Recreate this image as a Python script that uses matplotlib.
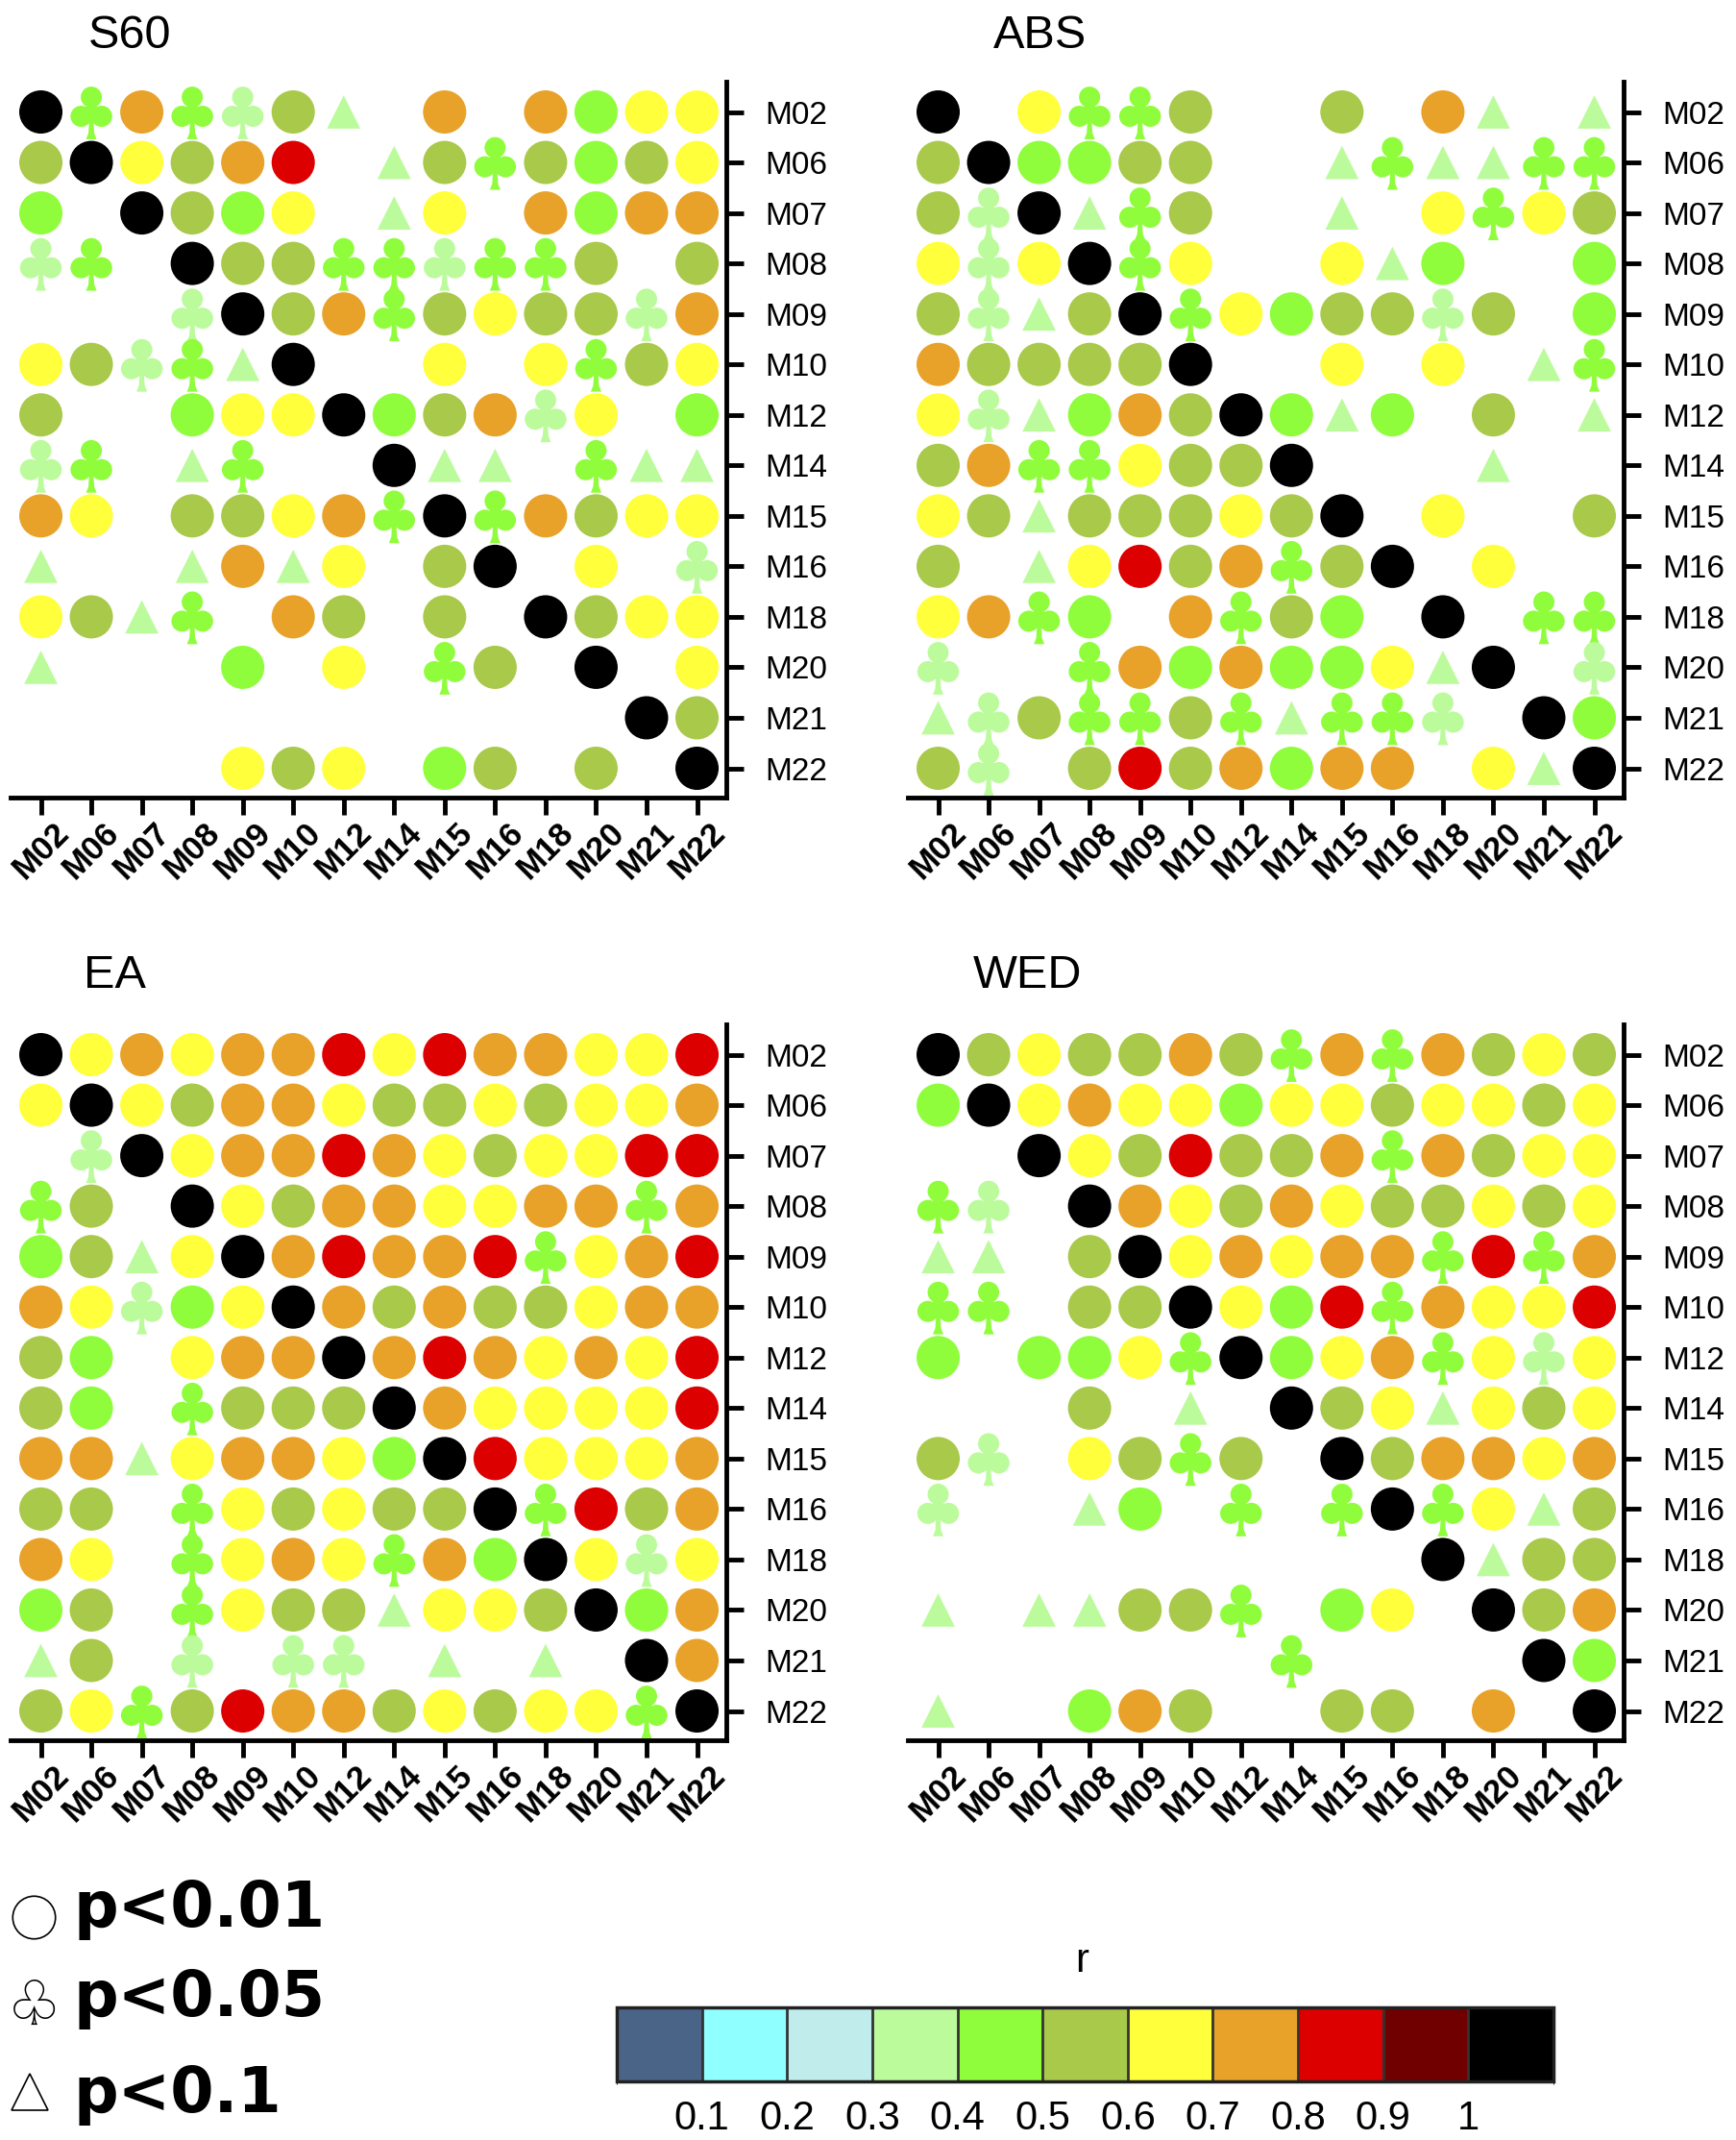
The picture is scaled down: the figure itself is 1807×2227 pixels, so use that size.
import numpy as np
import matplotlib
matplotlib.use('Agg')
import matplotlib.pyplot as plt
import matplotlib.transforms as mtransforms
from matplotlib.colors import ListedColormap, BoundaryNorm
from matplotlib.cm import ScalarMappable
from matplotlib.path import Path
from matplotlib.lines import Line2D

plt.rcParams['font.family'] = ['Liberation Sans', 'DejaVu Sans']

nan = np.nan

# station / model names (rows and columns)
models = ['M02', 'M06', 'M07', 'M08', 'M09', 'M10', 'M12',
          'M14', 'M15', 'M16', 'M18', 'M20', 'M21', 'M22']

# colour classes of r
r_bounds = [0, 0.1, 0.2, 0.3, 0.4, 0.5, 0.6, 0.7, 0.8, 0.9, 1.0, 1.1]
r_colors = ['#4a6488', '#8fffff', '#c0ecec', '#bcfb9c', '#8ffd3c', '#a9c94a',
            '#ffff3c', '#e8a22a', '#dc0000', '#700000', '#000000']
cbar_ticks = [0.1, 0.2, 0.3, 0.4, 0.5, 0.6, 0.7, 0.8, 0.9, 1.0]
cbar_labels = ['0.1', '0.2', '0.3', '0.4', '0.5', '0.6', '0.7', '0.8', '0.9', '1']

# significance: 3 = p<0.01 (circle), 2 = p<0.05 (club), 1 = p<0.1 (triangle), 0 = none
s60_r = [
    [1.00, .45, .75, .45, .35, .55, .35, nan, .75, nan, .75, .45, .65, .65],
    [.55, 1.00, .65, .55, .75, .85, nan, .35, .55, .45, .55, .45, .55, .65],
    [.45, nan, 1.00, .55, .45, .65, nan, .35, .65, nan, .75, .45, .75, .75],
    [.35, .45, nan, 1.00, .55, .55, .45, .45, .35, .45, .45, .55, nan, .55],
    [nan, nan, nan, .35, 1.00, .55, .75, .45, .55, .65, .55, .55, .35, .75],
    [.65, .55, .35, .45, .35, 1.00, nan, nan, .65, nan, .65, .45, .55, .65],
    [.55, nan, nan, .45, .65, .65, 1.00, .45, .55, .75, .35, .65, nan, .45],
    [.35, .45, nan, .35, .45, nan, nan, 1.00, .35, .35, nan, .45, .35, .35],
    [.75, .65, nan, .55, .55, .65, .75, .45, 1.00, .45, .75, .55, .65, .65],
    [.35, nan, nan, .35, .75, .35, .65, nan, .55, 1.00, nan, .65, nan, .35],
    [.65, .55, .35, .45, nan, .75, .55, nan, .55, nan, 1.00, .55, .65, .65],
    [.35, nan, nan, nan, .45, nan, .65, nan, .45, .55, nan, 1.00, nan, .65],
    [nan, nan, nan, nan, nan, nan, nan, nan, nan, nan, nan, nan, 1.00, .55],
    [nan, nan, nan, nan, .65, .55, .65, nan, .45, .55, nan, .55, nan, 1.00],
]
s60_p = [
    [3, 2, 3, 2, 2, 3, 1, 0, 3, 0, 3, 3, 3, 3],
    [3, 3, 3, 3, 3, 3, 0, 1, 3, 2, 3, 3, 3, 3],
    [3, 0, 3, 3, 3, 3, 0, 1, 3, 0, 3, 3, 3, 3],
    [2, 2, 0, 3, 3, 3, 2, 2, 2, 2, 2, 3, 0, 3],
    [0, 0, 0, 2, 3, 3, 3, 2, 3, 3, 3, 3, 2, 3],
    [3, 3, 2, 2, 1, 3, 0, 0, 3, 0, 3, 2, 3, 3],
    [3, 0, 0, 3, 3, 3, 3, 3, 3, 3, 2, 3, 0, 3],
    [2, 2, 0, 1, 2, 0, 0, 3, 1, 1, 0, 2, 1, 1],
    [3, 3, 0, 3, 3, 3, 3, 2, 3, 2, 3, 3, 3, 3],
    [1, 0, 0, 1, 3, 1, 3, 0, 3, 3, 0, 3, 0, 2],
    [3, 3, 1, 2, 0, 3, 3, 0, 3, 0, 3, 3, 3, 3],
    [1, 0, 0, 0, 3, 0, 3, 0, 2, 3, 0, 3, 0, 3],
    [0, 0, 0, 0, 0, 0, 0, 0, 0, 0, 0, 0, 3, 3],
    [0, 0, 0, 0, 3, 3, 3, 0, 3, 3, 0, 3, 0, 3],
]

abs_r = [
    [1.00, nan, .65, .45, .45, .55, nan, nan, .55, nan, .75, .35, nan, .35],
    [.55, 1.00, .45, .45, .55, .55, nan, nan, .35, .45, .35, .35, .45, .45],
    [.55, .35, 1.00, .35, .45, .55, nan, nan, .35, nan, .65, .45, .65, .55],
    [.65, .35, .65, 1.00, .45, .65, nan, nan, .65, .35, .45, nan, nan, .45],
    [.55, .35, .35, .55, 1.00, .45, .65, .45, .55, .55, .35, .55, nan, .45],
    [.75, .55, .55, .55, .55, 1.00, nan, nan, .65, nan, .65, nan, .35, .45],
    [.65, .35, .35, .45, .75, .55, 1.00, .45, .35, .45, nan, .55, nan, .35],
    [.55, .75, .45, .45, .65, .55, .55, 1.00, nan, nan, nan, .35, nan, nan],
    [.65, .55, .35, .55, .55, .55, .65, .55, 1.00, nan, .65, nan, nan, .55],
    [.55, nan, .35, .65, .85, .55, .75, .45, .55, 1.00, nan, .65, nan, nan],
    [.65, .75, .45, .45, nan, .75, .45, .55, .45, nan, 1.00, nan, .45, .45],
    [.35, nan, nan, .45, .75, .45, .75, .45, .45, .65, .35, 1.00, nan, .35],
    [.35, .35, .55, .45, .45, .55, .45, .35, .45, .45, .35, nan, 1.00, .45],
    [.55, .35, nan, .55, .85, .55, .75, .45, .75, .75, nan, .65, .35, 1.00],
]
abs_p = [
    [3, 0, 3, 2, 2, 3, 0, 0, 3, 0, 3, 1, 0, 1],
    [3, 3, 3, 3, 3, 3, 0, 0, 1, 2, 1, 1, 2, 2],
    [3, 2, 3, 1, 2, 3, 0, 0, 1, 0, 3, 2, 3, 3],
    [3, 2, 3, 3, 2, 3, 0, 0, 3, 1, 3, 0, 0, 3],
    [3, 2, 1, 3, 3, 2, 3, 3, 3, 3, 2, 3, 0, 3],
    [3, 3, 3, 3, 3, 3, 0, 0, 3, 0, 3, 0, 1, 2],
    [3, 2, 1, 3, 3, 3, 3, 3, 1, 3, 0, 3, 0, 1],
    [3, 3, 2, 2, 3, 3, 3, 3, 0, 0, 0, 1, 0, 0],
    [3, 3, 1, 3, 3, 3, 3, 3, 3, 0, 3, 0, 0, 3],
    [3, 0, 1, 3, 3, 3, 3, 2, 3, 3, 0, 3, 0, 0],
    [3, 3, 2, 3, 0, 3, 2, 3, 3, 0, 3, 0, 2, 2],
    [2, 0, 0, 2, 3, 3, 3, 3, 3, 3, 1, 3, 0, 2],
    [1, 2, 3, 2, 2, 3, 2, 1, 2, 2, 2, 0, 3, 3],
    [3, 2, 0, 3, 3, 3, 3, 3, 3, 3, 0, 3, 1, 3],
]

ea_r = [
    [1.00, .65, .75, .65, .75, .75, .85, .65, .85, .75, .75, .65, .65, .85],
    [.65, 1.00, .65, .55, .75, .75, .65, .55, .55, .65, .55, .65, .65, .75],
    [nan, .35, 1.00, .65, .75, .75, .85, .75, .65, .55, .65, .65, .85, .85],
    [.45, .55, nan, 1.00, .65, .55, .75, .75, .65, .65, .75, .75, .45, .75],
    [.45, .55, .35, .65, 1.00, .75, .85, .75, .75, .85, .45, .65, .75, .85],
    [.75, .65, .35, .45, .65, 1.00, .75, .55, .75, .55, .55, .65, .75, .75],
    [.55, .45, nan, .65, .75, .75, 1.00, .75, .85, .75, .65, .75, .65, .85],
    [.55, .45, nan, .45, .55, .55, .55, 1.00, .75, .65, .65, .65, .65, .85],
    [.75, .75, .35, .65, .75, .75, .65, .45, 1.00, .85, .65, .65, .65, .75],
    [.55, .55, nan, .45, .65, .55, .65, .55, .55, 1.00, .45, .85, .55, .75],
    [.75, .65, nan, .45, .65, .75, .65, .45, .75, .45, 1.00, .65, .35, .65],
    [.45, .55, nan, .45, .65, .55, .55, .35, .65, .65, .55, 1.00, .45, .75],
    [.35, .55, nan, .35, nan, .35, .35, nan, .35, nan, .35, nan, 1.00, .75],
    [.55, .65, .45, .55, .85, .75, .75, .55, .65, .55, .65, .65, .45, 1.00],
]
ea_p = [
    [3, 3, 3, 3, 3, 3, 3, 3, 3, 3, 3, 3, 3, 3],
    [3, 3, 3, 3, 3, 3, 3, 3, 3, 3, 3, 3, 3, 3],
    [0, 2, 3, 3, 3, 3, 3, 3, 3, 3, 3, 3, 3, 3],
    [2, 3, 0, 3, 3, 3, 3, 3, 3, 3, 3, 3, 2, 3],
    [3, 3, 1, 3, 3, 3, 3, 3, 3, 3, 2, 3, 3, 3],
    [3, 3, 2, 3, 3, 3, 3, 3, 3, 3, 3, 3, 3, 3],
    [3, 3, 0, 3, 3, 3, 3, 3, 3, 3, 3, 3, 3, 3],
    [3, 3, 0, 2, 3, 3, 3, 3, 3, 3, 3, 3, 3, 3],
    [3, 3, 1, 3, 3, 3, 3, 3, 3, 3, 3, 3, 3, 3],
    [3, 3, 0, 2, 3, 3, 3, 3, 3, 3, 2, 3, 3, 3],
    [3, 3, 0, 2, 3, 3, 3, 2, 3, 3, 3, 3, 2, 3],
    [3, 3, 0, 2, 3, 3, 3, 1, 3, 3, 3, 3, 3, 3],
    [1, 3, 0, 2, 0, 2, 2, 0, 1, 0, 1, 0, 3, 3],
    [3, 3, 2, 3, 3, 3, 3, 3, 3, 3, 3, 3, 2, 3],
]

wed_r = [
    [1.00, .55, .65, .55, .55, .75, .55, .45, .75, .45, .75, .55, .65, .55],
    [.45, 1.00, .65, .75, .65, .65, .45, .65, .65, .55, .65, .65, .55, .65],
    [nan, nan, 1.00, .65, .55, .85, .55, .55, .75, .45, .75, .55, .65, .65],
    [.45, .35, nan, 1.00, .75, .65, .55, .75, .65, .55, .55, .65, .55, .65],
    [.35, .35, nan, .55, 1.00, .65, .75, .65, .75, .75, .45, .85, .45, .75],
    [.45, .45, nan, .55, .55, 1.00, .65, .45, .85, .45, .75, .65, .65, .85],
    [.45, nan, .45, .45, .65, .45, 1.00, .45, .65, .75, .45, .65, .35, .65],
    [nan, nan, nan, .55, nan, .35, nan, 1.00, .55, .65, .35, .65, .55, .65],
    [.55, .35, nan, .65, .55, .45, .55, nan, 1.00, .55, .75, .75, .65, .75],
    [.35, nan, nan, .35, .45, nan, .45, nan, .45, 1.00, .45, .65, .35, .55],
    [nan, nan, nan, nan, nan, nan, nan, nan, nan, nan, 1.00, .35, .55, .55],
    [.35, nan, .35, .35, .55, .55, .45, nan, .45, .65, nan, 1.00, .55, .75],
    [nan, nan, nan, nan, nan, nan, nan, .45, nan, nan, nan, nan, 1.00, .45],
    [.35, nan, nan, .45, .75, .55, nan, nan, .55, .55, nan, .75, nan, 1.00],
]
wed_p = [
    [3, 3, 3, 3, 3, 3, 3, 2, 3, 2, 3, 3, 3, 3],
    [3, 3, 3, 3, 3, 3, 3, 3, 3, 3, 3, 3, 3, 3],
    [0, 0, 3, 3, 3, 3, 3, 3, 3, 2, 3, 3, 3, 3],
    [2, 2, 0, 3, 3, 3, 3, 3, 3, 3, 3, 3, 3, 3],
    [1, 1, 0, 3, 3, 3, 3, 3, 3, 3, 2, 3, 2, 3],
    [2, 2, 0, 3, 3, 3, 3, 3, 3, 2, 3, 3, 3, 3],
    [3, 0, 3, 3, 3, 2, 3, 3, 3, 3, 2, 3, 2, 3],
    [0, 0, 0, 3, 0, 1, 0, 3, 3, 3, 1, 3, 3, 3],
    [3, 2, 0, 3, 3, 2, 3, 0, 3, 3, 3, 3, 3, 3],
    [2, 0, 0, 1, 3, 0, 2, 0, 2, 3, 2, 3, 1, 3],
    [0, 0, 0, 0, 0, 0, 0, 0, 0, 0, 3, 1, 3, 3],
    [1, 0, 1, 1, 3, 3, 2, 0, 3, 3, 0, 3, 3, 3],
    [0, 0, 0, 0, 0, 0, 0, 2, 0, 0, 0, 0, 3, 3],
    [1, 0, 0, 3, 3, 3, 0, 0, 3, 3, 0, 3, 0, 3],
]

W, H = 1807, 2227


def fx(x):
    return x / W


def fy(y):
    return 1 - y / H


# club (p<0.05) marker built from three lobes and a stem
def club_path():
    parts = [Path.circle((0, 15.4), 11), Path.circle((-10.7, -4.5), 11),
             Path.circle((10.7, -4.5), 11), Path.circle((0, 1), 7)]
    stem = Path([(-2, -6), (-3, -22), (-5.5, -28.4), (5.5, -28.4), (3, -22), (2, -6), (-2, -6)],
                [Path.MOVETO] + [Path.LINETO] * 5 + [Path.CLOSEPOLY])
    return Path.make_compound_path(*parts, stem)


cmap = ListedColormap(r_colors)
norm = BoundaryNorm(r_bounds, cmap.N)
club = club_path()

marker_style = {3: ('o', 1050), 2: (club, 1673), 1: ('^', 625)}

fig = plt.figure(figsize=(W / 100, H / 100), dpi=100)

panels = [
    ('S60', s60_r, s60_p, 11, 85, 92, 50),
    ('ABS', abs_r, abs_p, 945, 85, 1034, 50),
    ('EA', ea_r, ea_p, 11, 1066, 87, 1028),
    ('WED', wed_r, wed_p, 945, 1066, 1013, 1028),
]

n = len(models)
size = 745
label_shift = mtransforms.ScaledTranslation(10 / 100, 0, fig.dpi_scale_trans)

for name, rr, pp, left, top, tx, ty in panels:
    ax = fig.add_axes([fx(left), fy(top + size), size / W, size / H])
    rr = np.array(rr, dtype=float)
    pp = np.array(pp)
    for level, (mk, s) in marker_style.items():
        iy, ix = np.where(pp == level)
        ax.scatter(ix, iy, c=rr[iy, ix], cmap=cmap, norm=norm, marker=mk, s=s,
                   linewidths=0, clip_on=False, zorder=3)
    ax.set_xlim(-0.6, 13.58)
    ax.set_ylim(13.58, -0.6)
    ax.yaxis.tick_right()
    ax.set_xticks(range(n))
    ax.set_yticks(range(n))
    ax.set_xticklabels(models, rotation=45, ha='center', va='top', fontsize=25, fontweight='bold')
    ax.set_yticklabels(models, fontsize=24)
    for lab in ax.get_xticklabels():
        lab.set_transform(lab.get_transform() + label_shift)
    for sp in ['left', 'top']:
        ax.spines[sp].set_visible(False)
    for sp in ['bottom', 'right']:
        ax.spines[sp].set_linewidth(3.5)
    ax.tick_params(axis='both', length=13, width=3.5, direction='out')
    ax.tick_params(axis='y', pad=16)
    ax.tick_params(axis='x', pad=1)
    fig.text(fx(tx), fy(ty), name, fontsize=35, ha='left', va='baseline')

# significance legend
leg_texts = ['p<0.01', 'p<0.05', 'p<0.1']
leg_base = [2005, 2098, 2198]
for txt, yb in zip(leg_texts, leg_base):
    fig.text(fx(77), fy(yb), txt, fontsize=47, fontweight='bold',
             family='DejaVu Sans', ha='left', va='baseline')
fig.add_artist(Line2D([fx(35)], [fy(1995)], transform=fig.transFigure, marker='o',
                      markersize=32, markerfacecolor='none', markeredgecolor='black',
                      markeredgewidth=1.2, linestyle='none'))
fig.text(fx(36), fy(2089), '\u2667', fontsize=46, family='DejaVu Sans',
         ha='center', va='center')
fig.add_artist(Line2D([fx(31)], [fy(2177)], transform=fig.transFigure, marker='^',
                      markersize=27, markerfacecolor='none', markeredgecolor='black',
                      markeredgewidth=1.2, linestyle='none'))

# colour bar
narrow = ['Liberation Sans Narrow', 'Liberation Sans']
cax = fig.add_axes([fx(642), fy(2166), 975 / W, 77 / H])
cb = fig.colorbar(ScalarMappable(norm=norm, cmap=cmap), cax=cax, orientation='horizontal',
                  drawedges=True, ticks=cbar_ticks)
cb.set_ticklabels(cbar_labels)
cb.outline.set_linewidth(2.5)
cb.outline.set_edgecolor('#222222')
cb.dividers.set_color('#333333')
cb.dividers.set_linewidth(2)
cax.tick_params(length=0, pad=14)
for lab in cax.get_xticklabels():
    lab.set_fontsize(30)
    lab.set_family(narrow)
fig.text(fx(1126), fy(2052), 'r', fontsize=30, family=narrow, ha='center', va='baseline')

fig.savefig('out.png', dpi=100)
